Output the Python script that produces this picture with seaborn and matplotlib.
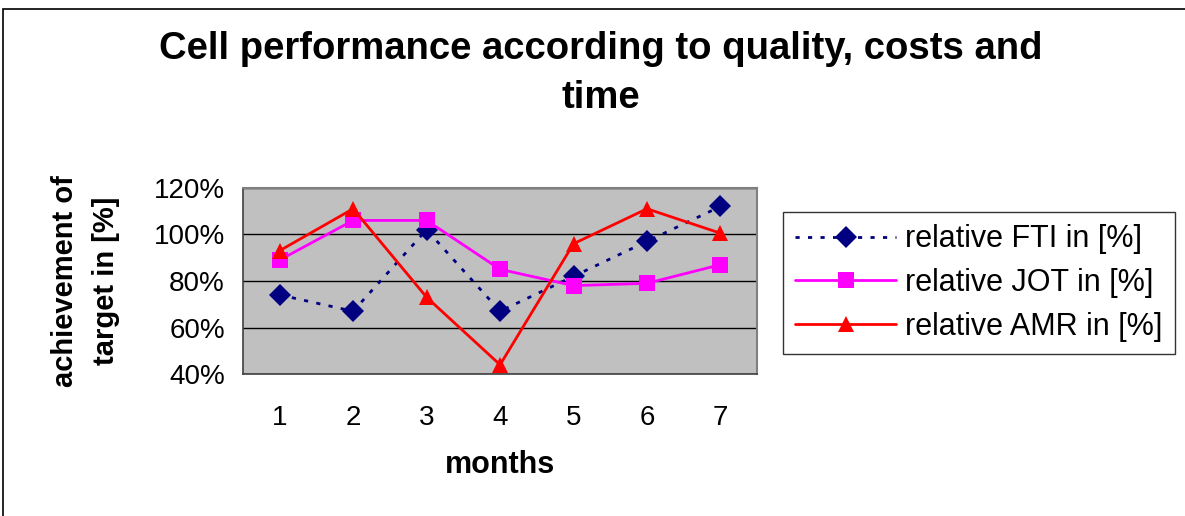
import pandas as pd
import matplotlib.pyplot as plt
import seaborn as sns
from matplotlib.patches import Rectangle

months = [1, 2, 3, 4, 5, 6, 7]
fti = [74, 67, 102, 67, 82, 97, 112]
jot = [89, 106, 106, 85, 78, 79, 87]
amr = [93, 111, 73, 44, 96, 111, 100.5]
series_names = ['relative FTI in [%]', 'relative JOT in [%]', 'relative AMR in [%]']
y_ticks = [40, 60, 80, 100, 120]

df = pd.DataFrame({
    'month': months * 3,
    'value': fti + jot + amr,
    'series': [series_names[0]] * 7 + [series_names[1]] * 7 + [series_names[2]] * 7,
})

sns.set_style('white')
plt.rcParams['font.family'] = ['Liberation Sans', 'DejaVu Sans']
plt.rcParams['text.color'] = 'black'
plt.rcParams['axes.labelcolor'] = 'black'
plt.rcParams['xtick.color'] = 'black'
plt.rcParams['ytick.color'] = 'black'

fig = plt.figure(figsize=(11.85, 5.16), dpi=100)
ax = fig.add_axes([0.205, 0.275, 0.434, 0.361])
ax.set_facecolor('#c0c0c0')

palette = {series_names[0]: '#000080', series_names[1]: '#ff00ff', series_names[2]: '#ff0000'}
markers = {series_names[0]: 'D', series_names[1]: 's', series_names[2]: '^'}
dashes = {series_names[0]: (1.5, 3), series_names[1]: '', series_names[2]: ''}

sns.lineplot(data=df, x='month', y='value', hue='series', style='series',
             palette=palette, markers=markers, dashes=dashes, linewidth=2,
             markersize=11, markeredgewidth=0, ax=ax, zorder=3)

ax.set_xlim(0.5, 7.5)
ax.set_ylim(40, 120)
ax.set_yticks(y_ticks)
ax.set_yticklabels([f'{t}%' for t in y_ticks], fontsize=20)
ax.set_xticks(months)
ax.set_xticklabels([str(m) for m in months], fontsize=20)
ax.set_xticks([m - 0.5 for m in months] + [7.5], minor=True)
ax.tick_params(axis='x', which='major', length=0, pad=22)
ax.tick_params(axis='x', which='minor', length=7, width=1, color='black', direction='out')
ax.tick_params(axis='y', length=7, width=1, color='black', direction='out', pad=6)
ax.grid(axis='y', color='black', linewidth=1)
ax.set_axisbelow(True)
for side in ['top', 'right']:
    ax.spines[side].set_color('#808080')
    ax.spines[side].set_linewidth(1.5)
for side in ['left', 'bottom']:
    ax.spines[side].set_color('#404040')
    ax.spines[side].set_linewidth(1.2)

ax.set_xlabel('months', fontsize=22, fontweight='bold', labelpad=14)
ax.set_ylabel('achievement of\ntarget in [%]', fontsize=21, fontweight='bold',
              labelpad=24, linespacing=1.6)

fig.suptitle('Cell performance according to quality, costs and\ntime',
             fontsize=27.5, fontweight='bold', x=0.507, y=0.94, linespacing=1.45)

handles, labels = ax.get_legend_handles_labels()
leg = ax.legend(handles, labels, loc='upper left', bbox_to_anchor=(1.05, 0.87),
                fontsize=22, frameon=True, fancybox=False, edgecolor='black',
                handlelength=3.3, handletextpad=0.3, borderpad=0.4,
                labelspacing=0.45, borderaxespad=0)
leg.get_frame().set_linewidth(1)

fig.patches.append(Rectangle((3 / 1185, -0.5), 2, 1.5 - 9 / 516, transform=fig.transFigure,
                             fill=False, edgecolor='black', linewidth=1.2))

fig.savefig('out.png', dpi=100)
